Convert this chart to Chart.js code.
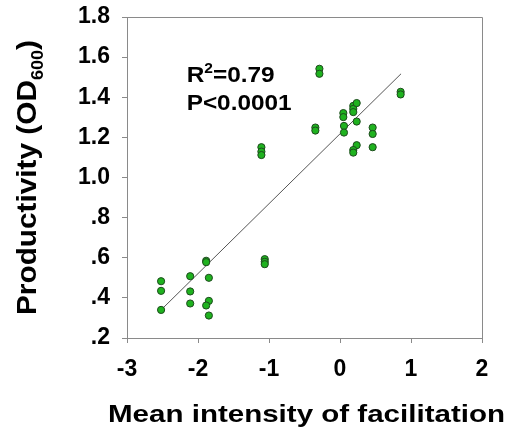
<!DOCTYPE html>
<html>
<head>
<meta charset="utf-8">
<script src="https://cdn.jsdelivr.net/npm/chart.js@4.4.1/dist/chart.umd.min.js"></script>
<style>
  html, body { margin: 0; padding: 0; background: #fff; }
  #wrap { width: 510px; height: 434px; }
</style>
</head>
<body>
<div id="wrap"><canvas id="chart" width="510" height="434"></canvas></div>
<script>
// mean intensity of facilitation (x) and productivity OD600 (y)
const facilitation = [
  -2.52, -2.52, -2.52,
  -2.11, -2.11, -2.11,
  -1.885, -1.885, -1.847, -1.847, -1.885, -1.847,
  -1.06, -1.06, -1.06,
  -1.107, -1.107, -1.107,
  -0.347, -0.347,
  -0.29, -0.29,
  0.047, 0.047, 0.056, 0.056,
  0.187, 0.187, 0.187, 0.235, 0.235, 0.235, 0.187, 0.187,
  0.46, 0.46, 0.46,
  0.854, 0.854
];
const productivity = [
  0.483, 0.435, 0.34,
  0.508, 0.432, 0.372,
  0.585, 0.578, 0.50, 0.385, 0.362, 0.312,
  0.593, 0.58, 0.568,
  1.151, 1.129, 1.112,
  1.249, 1.234,
  1.542, 1.517,
  1.321, 1.301, 1.257, 1.224,
  1.357, 1.342, 1.326, 1.371, 1.279, 1.161, 1.137, 1.124,
  1.249, 1.217, 1.151,
  1.427, 1.414
];

// fitted regression line end points
const fitX = [-2.52, 0.86];
const fitY = [0.34, 1.517];

const xTicks = [-3, -2, -1, 0, 1, 2];
const yTicks = [0.2, 0.4, 0.6, 0.8, 1.0, 1.2, 1.4, 1.6, 1.8];
const yTickLabels = ['.2', '.4', '.6', '.8', '1.0', '1.2', '1.4', '1.6', '1.8'];

const stats = { r2: '0.79', p: 'P<0.0001' };

const FONT = "'Liberation Sans', Arial, sans-serif";

const points = facilitation.map((x, i) => ({ x: x, y: productivity[i] }));
const fitLine = fitX.map((x, i) => ({ x: x, y: fitY[i] }));

// draws a run of [text, size, dy] pieces, stretched along the baseline to a given width
function drawRuns(ctx, runs, x, y, width) {
  let total = 0;
  runs.forEach(r => {
    ctx.font = 'bold ' + r[1] + 'px ' + FONT;
    r.w = ctx.measureText(r[0]).width;
    total += r.w;
  });
  const k = width ? width / total : 1;
  ctx.save();
  ctx.translate(x, y);
  ctx.scale(k, 1);
  let cx = 0;
  runs.forEach(r => {
    ctx.font = 'bold ' + r[1] + 'px ' + FONT;
    ctx.fillText(r[0], cx, r[2]);
    cx += r.w;
  });
  ctx.restore();
}

// frame on top/right, titles, R2 / P text
const extras = {
  id: 'extras',
  afterDraw(chart) {
    const ctx = chart.ctx;
    const a = chart.chartArea;
    const xs = chart.scales.x, ys = chart.scales.y;
    ctx.save();
    ctx.strokeStyle = '#8a8a8a';
    ctx.lineWidth = 1;
    ctx.beginPath();
    ctx.moveTo(a.left, a.top + 0.5);
    ctx.lineTo(a.right + 0.5, a.top + 0.5);
    ctx.lineTo(a.right + 0.5, a.bottom);
    ctx.stroke();

    ctx.fillStyle = '#000';
    ctx.textBaseline = 'alphabetic';
    ctx.textAlign = 'left';

    // stats text
    const tx = xs.getPixelForValue(-2.16);
    drawRuns(ctx, [['R', 22, 0], ['2', 14, -9], ['=' + stats.r2, 22, 0]], tx, ys.getPixelForValue(1.476), 88);
    drawRuns(ctx, [[stats.p, 22, 0]], tx, ys.getPixelForValue(1.338), 105);

    // x title
    drawRuns(ctx, [['Mean intensity of facilitation', 24, 0]], 108, 422, 397);

    // y title, rotated
    ctx.translate(36, 315);
    ctx.rotate(-Math.PI / 2);
    drawRuns(ctx, [['Productivity (OD', 28, 0], ['600', 17, 7], [')', 28, 0]], 0, 0, 275);
    ctx.restore();
  }
};

new Chart(document.getElementById('chart'), {
  type: 'scatter',
  data: {
    datasets: [
      {
        data: points,
        backgroundColor: '#1fb21f',
        borderColor: '#1d4a1d',
        borderWidth: 1,
        pointRadius: 3.6,
        order: 1
      },
      {
        type: 'line',
        data: fitLine,
        borderColor: '#555',
        borderWidth: 1,
        pointRadius: 0,
        fill: false,
        order: 2
      }
    ]
  },
  options: {
    responsive: false,
    animation: false,
    layout: { padding: { left: 0, right: 28, top: 17, bottom: 0 } },
    plugins: {
      legend: { display: false },
      tooltip: { enabled: false }
    },
    scales: {
      x: {
        type: 'linear',
        min: -3,
        max: 2,
        afterBuildTicks: s => { s.ticks = xTicks.map(v => ({ value: v })); },
        afterFit: s => { s.height = 96; s.paddingLeft = 0; s.paddingRight = 0; },
        grid: { drawOnChartArea: false, tickLength: 5, color: '#8a8a8a' },
        border: { color: '#8a8a8a' },
        ticks: {
          color: '#000',
          padding: 13,
          maxRotation: 0,
          font: { family: FONT, size: 23, weight: 'bold' }
        }
      },
      y: {
        type: 'linear',
        min: 0.2,
        max: 1.8,
        afterBuildTicks: s => { s.ticks = yTicks.map(v => ({ value: v })); },
        afterFit: s => { s.width = 127; s.paddingTop = 0; s.paddingBottom = 0; },
        grid: { drawOnChartArea: false, tickLength: 5, color: '#8a8a8a' },
        border: { color: '#8a8a8a' },
        ticks: {
          color: '#000',
          padding: 12,
          font: { family: FONT, size: 23, weight: 'bold' },
          callback: (v) => {
            const i = yTicks.findIndex(t => Math.abs(t - v) < 1e-6);
            return i >= 0 ? yTickLabels[i] : '';
          }
        }
      }
    }
  },
  plugins: [extras]
});
</script>
</body>
</html>
